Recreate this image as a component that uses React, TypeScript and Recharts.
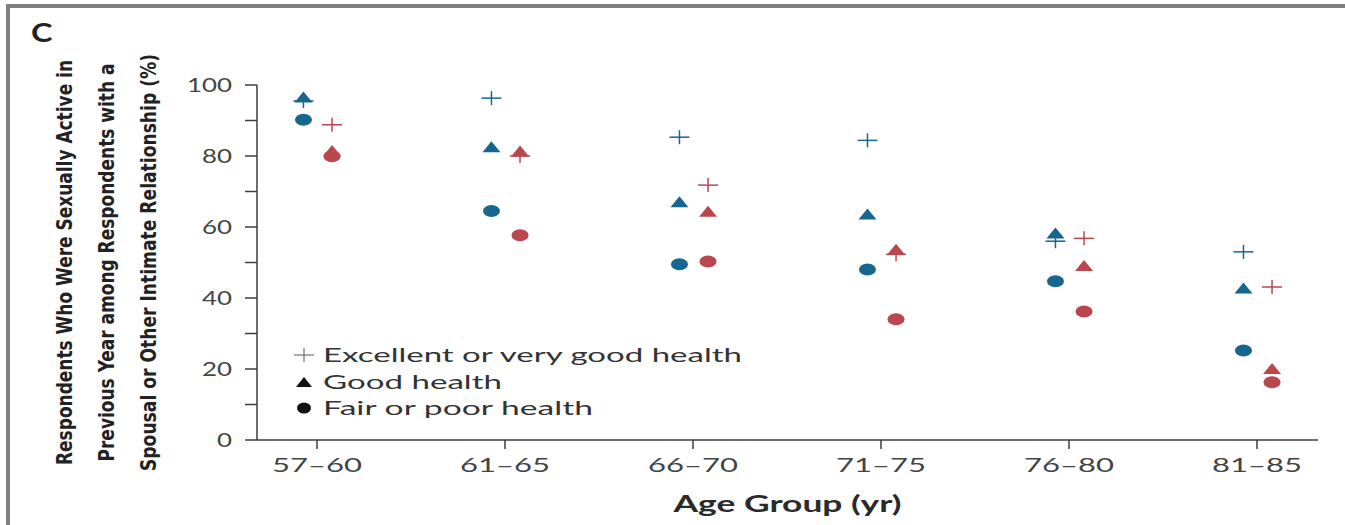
import React from "react"
import { ScatterChart, Scatter, XAxis, YAxis, Legend } from "recharts"

// age groups on the x axis
const ageGroups = ["57–60", "61–65", "66–70", "71–75", "76–80", "81–85"]
const yTicks = [0, 10, 20, 30, 40, 50, 60, 70, 80, 90, 100]

// men (blue) by self-rated health, %
const menExcellent = [95.5, 96.3, 85.3, 84.4, 56, 53]
const menGood = [96.5, 82.5, 67, 63.5, 58.2, 42.7]
const menFair = [90.2, 64.5, 49.5, 48, 44.7, 25.2]

// women (red) by self-rated health, %
const womenExcellent = [88.8, 80, 71.8, 52.3, 56.8, 43.1]
const womenGood = [81.4, 81.3, 64.3, 53.6, 49, 20]
const womenFair = [79.9, 57.7, 50.3, 34, 36.2, 16.3]

const legendLabels = ["Excellent or very good health", "Good health", "Fair or poor health"]

const BLUE = "#17668f"
const RED = "#b9474d"
const AXIS = "#3c3c3c"
const TEXT = "#444"
const FRAME = "#808080"
const BLUE_SHIFT = -0.072
const RED_SHIFT = 0.08

const toPoints = (values: number[], shift: number) =>
  values.map((v, i) => ({ x: i + shift, y: v, group: ageGroups[i] }))

function Plus({ cx, cy, color }: any) {
  return (
    <g stroke={color} strokeWidth={1.5}>
      <line x1={cx - 10} y1={cy} x2={cx + 10} y2={cy} />
      <line x1={cx} y1={cy - 7} x2={cx} y2={cy + 7} />
    </g>
  )
}

function Triangle({ cx, cy, color }: any) {
  return <polygon points={`${cx - 9},${cy + 5} ${cx + 9},${cy + 5} ${cx},${cy - 6}`} fill={color} />
}

function Dot({ cx, cy, color }: any) {
  return <ellipse cx={cx} cy={cy} rx={8.5} ry={6} fill={color} />
}

function YTick({ x, y, payload }: any) {
  if (payload.value % 20 !== 0) return null
  const label = String(payload.value)
  return (
    <text
      x={x}
      y={y}
      dy="0.36em"
      textAnchor="end"
      fontFamily="Lato, 'Open Sans', sans-serif"
      fontSize={20}
      fill={TEXT}
      textLength={label.length * 15}
      lengthAdjust="spacingAndGlyphs"
    >
      {label}
    </text>
  )
}

function XTick({ x, y, payload }: any) {
  return (
    <text
      x={x}
      y={y}
      dy={21}
      textAnchor="middle"
      fontFamily="Lato, 'Open Sans', sans-serif"
      fontSize={20}
      fill={TEXT}
      textLength={90}
      lengthAdjust="spacingAndGlyphs"
    >
      {ageGroups[payload.value]}
    </text>
  )
}

function XTitle({ viewBox }: any) {
  return (
    <text
      x={viewBox.x + viewBox.width / 2}
      y={viewBox.y + 72}
      textAnchor="middle"
      fontFamily="Lato, 'Open Sans', sans-serif"
      fontWeight={700}
      fontSize={22}
      fill="#2a2a2a"
      textLength={228}
      lengthAdjust="spacingAndGlyphs"
    >
      Age Group (yr)
    </text>
  )
}

const yTitleLines = [
  { text: "Respondents Who Were Sexually Active in", dx: -125, len: 405 },
  { text: "Previous Year among Respondents with a", dx: -83, len: 398 },
  { text: "Spousal or Other Intimate Relationship (%)", dx: -41, len: 417 },
]

function YTitle({ viewBox }: any) {
  const cy = viewBox.y + viewBox.height / 2
  return (
    <g>
      {yTitleLines.map((l) => (
        <text
          key={l.text}
          transform={`translate(${viewBox.x + l.dx}, ${cy}) rotate(-90)`}
          textAnchor="middle"
          fontFamily="'Liberation Sans Narrow', 'DejaVu Sans Condensed', sans-serif"
          fontWeight={700}
          fontSize={22}
          fill="#222"
          textLength={l.len}
          lengthAdjust="spacingAndGlyphs"
        >
          {l.text}
        </text>
      ))}
    </g>
  )
}

function LegendBox() {
  const rows = [15, 42, 68]
  const lens = [419, 179, 270]
  return (
    <svg width={470} height={82}>
      <Plus cx={14} cy={rows[0]} color="#8d8d8d" />
      <polygon points={`6,${rows[1] + 5} 22,${rows[1] + 5} 14,${rows[1] - 5}`} fill="#111" />
      <ellipse cx={14} cy={rows[2]} rx={7} ry={5.5} fill="#111" />
      {legendLabels.map((t, i) => (
        <text
          key={t}
          x={33}
          y={rows[i] + 7}
          fontFamily="Lato, 'Open Sans', sans-serif"
          fontSize={20}
          fill="#333"
          textLength={lens[i]}
          lengthAdjust="spacingAndGlyphs"
        >
          {t}
        </text>
      ))}
    </svg>
  )
}

export default function App() {
  return (
    <div style={{ position: "fixed", left: 0, top: 0, width: 1345, height: 525, background: "#fff", overflow: "hidden" }}>
      <div style={{ position: "absolute", left: 6, top: 4, width: 1345, height: 4, background: FRAME }} />
      <div style={{ position: "absolute", left: 6, top: 4, width: 4, height: 525, background: FRAME }} />
      <div
        style={{
          position: "absolute",
          left: 31,
          top: 16,
          fontFamily: "Lato, 'Open Sans', sans-serif",
          fontWeight: 700,
          fontSize: 26,
          color: "#222",
          transform: "scaleX(1.25)",
          transformOrigin: "left top",
        }}
      >
        C
      </div>
      <ScatterChart width={1345} height={525} margin={{ top: 85, right: 27, bottom: 25, left: 197 }}>
        <XAxis
          type="number"
          dataKey="x"
          domain={[-60 / 188, 5 + 61 / 188]}
          ticks={[0, 1, 2, 3, 4, 5]}
          height={60}
          tickSize={9}
          tickMargin={2}
          axisLine={{ stroke: AXIS, strokeWidth: 1.5 }}
          tickLine={{ stroke: AXIS, strokeWidth: 1.5 }}
          tick={<XTick />}
          label={{ content: (p: any) => <XTitle {...p} /> }}
        />
        <YAxis
          type="number"
          dataKey="y"
          domain={[0, 100]}
          ticks={yTicks}
          width={60}
          tickSize={12}
          tickMargin={13}
          axisLine={{ stroke: AXIS, strokeWidth: 1.5 }}
          tickLine={{ stroke: AXIS, strokeWidth: 1.5 }}
          tick={<YTick />}
          label={{ content: (p: any) => <YTitle {...p} /> }}
        />
        <Legend
          layout="vertical"
          align="center"
          verticalAlign="middle"
          wrapperStyle={{ left: 290, top: 340, width: 470, height: 82 }}
          content={() => <LegendBox />}
        />
        <Scatter name="Men, excellent" data={toPoints(menExcellent, BLUE_SHIFT)} isAnimationActive={false} shape={(p: any) => <Plus {...p} color={BLUE} />} />
        <Scatter name="Women, excellent" data={toPoints(womenExcellent, RED_SHIFT)} isAnimationActive={false} shape={(p: any) => <Plus {...p} color={RED} />} />
        <Scatter name="Men, good" data={toPoints(menGood, BLUE_SHIFT)} isAnimationActive={false} shape={(p: any) => <Triangle {...p} color={BLUE} />} />
        <Scatter name="Women, good" data={toPoints(womenGood, RED_SHIFT)} isAnimationActive={false} shape={(p: any) => <Triangle {...p} color={RED} />} />
        <Scatter name="Men, fair" data={toPoints(menFair, BLUE_SHIFT)} isAnimationActive={false} shape={(p: any) => <Dot {...p} color={BLUE} />} />
        <Scatter name="Women, fair" data={toPoints(womenFair, RED_SHIFT)} isAnimationActive={false} shape={(p: any) => <Dot {...p} color={RED} />} />
      </ScatterChart>
    </div>
  )
}
